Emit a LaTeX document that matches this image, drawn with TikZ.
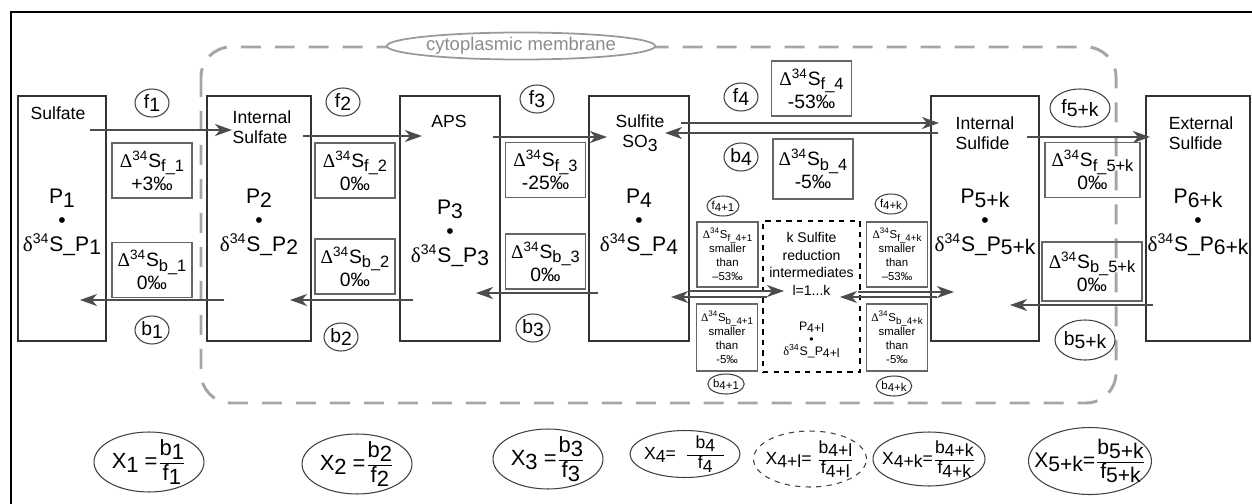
\documentclass[tikz,border=0pt]{standalone}
\usepackage{fontspec}
\setmainfont{Liberation Sans}
\newfontfamily\grk{Liberation Serif}
\usepackage{graphicx}
\usetikzlibrary{positioning,shapes,arrows.meta}

\newcommand{\lo}[1]{\raisebox{-0.35ex}{#1}}
\newcommand{\sub}[1]{\raisebox{-0.45ex}{\scalebox{0.85}{#1}}}
\newcommand{\Dl}{{\grk Δ}\textsuperscript{34}S}
\newcommand{\dl}{{\grk δ}\textsuperscript{34}S\_P}
\newcommand{\frc}[2]{$\frac{\mbox{\rule[-0.6ex]{0pt}{1ex}#1}}{\mbox{#2}}$}

\begin{document}
\begin{tikzpicture}[x=0.02cm, y=-0.02cm,
      every node/.style={font=\fontsize{10}{12}\selectfont, align=center, inner sep=1pt},
      pool/.style={draw=black!80, line width=0.9pt, minimum height=49mm},
      poolname/.style={align=left, font=\fontsize{10}{11.5}\selectfont},
      conc/.style={font=\fontsize{12}{13.6}\selectfont},
      dbox/.style={draw=black!60, line width=0.9pt, minimum width=16mm, minimum height=11mm,
                   font=\fontsize{11}{13}\selectfont},
      sbox/.style={draw=black!60, line width=0.9pt, minimum width=12.2mm, minimum height=13mm,
                   font=\fontsize{6.5}{8}\selectfont},
      rate/.style={ellipse, draw=black!75, line width=0.6pt, inner sep=0pt,
                   minimum width=6.8mm, minimum height=5.6mm, font=\fontsize{11}{12}\selectfont},
      srate/.style={rate, minimum width=6.4mm, minimum height=4mm, font=\fontsize{6.5}{7}\selectfont},
      eq/.style={ellipse, draw=black!75, line width=0.6pt, inner sep=-6mm,
                 minimum width=22mm, minimum height=12mm, font=\fontsize{12.5}{13}\selectfont},
      arrow/.style={-{Stealth[length=3.4mm, width=2.4mm, inset=1mm]}, line width=0.9pt, draw=black!70},
      membrane/.style={draw=black!35, line width=1.7pt, dash pattern=on 4mm off 2.8mm,
                       rounded corners=6mm},
  ]
    \useasboundingbox (0,0) rectangle (1252,504);
    \draw[line width=1.1pt] (11,12) rectangle (1264,516);

    %% --- membrane ---
    \draw[membrane] (201,47) rectangle (1116,403);
    \node[ellipse, draw=black!40, line width=1pt, fill=white, text=black!45, inner sep=0pt,
          minimum width=50.6mm, minimum height=5.4mm, font=\fontsize{10.5}{12}\selectfont]
      (memb) at (521,46) {cytoplasmic membrane};

    %% --- pools ---
    \node[pool, minimum width=17.6mm] (p1) at (62,218.5) {};
    \node[pool, minimum width=20.8mm] (p2) at (259,218.5) {};
    \node[pool, minimum width=20mm]   (p3) at (450,218.5) {};
    \node[pool, minimum width=20mm]   (p4) at (639,218.5) {};
    \node[pool, minimum width=21.6mm] (p5) at (985,218.5) {};
    \node[pool, minimum width=20.8mm] (p6) at (1198,218.5) {};

    \node[poolname] (n1) at (58,113)  {Sulfate};
    \node[poolname] (n2) at (262,127) {Internal\\Sulfate};
    \node[poolname] (n3) at (449,121) {APS};
    \node[poolname, align=center] (n4) at (640,133) {Sulfite\\SO\lo{3}};
    \node[poolname] (n5) at (985,133) {Internal\\Sulfide};
    \node[poolname] (n6) at (1201,133) {External\\Sulfide};

    \node[conc] (c1) at (62,222)  {P\lo{1}\\•\\\dl\lo{1}};
    \node[conc] (c2) at (259,222) {P\lo{2}\\•\\\dl\lo{2}};
    \node[conc] (c3) at (450,233) {P\lo{3}\\•\\\dl\lo{3}};
    \node[conc] (c4) at (639,222) {P\lo{4}\\•\\\dl\lo{4}};
    \node[conc] (c5) at (985,222) {P\lo{5+k}\\•\\\dl\lo{5+k}};
    \node[conc] (c6) at (1198,222) {P\lo{6+k}\\•\\\dl\lo{6+k}};

    %% --- fractionation boxes ---
    \node[dbox] (df1) at (152,170.5) {\Dl\sub{f\_1}\\+3‰};
    \node[dbox] (db1) at (152,270)   {\Dl\sub{b\_1}\\0‰};
    \node[dbox] (df2) at (355,170.5) {\Dl\sub{f\_2}\\0‰};
    \node[dbox] (db2) at (355,266.5) {\Dl\sub{b\_2}\\0‰};
    \node[dbox] (df3) at (545.5,170) {\Dl\sub{f\_3}\\-25‰};
    \node[dbox] (db3) at (545.5,261.5) {\Dl\sub{b\_3}\\0‰};
    \node[dbox] (df4) at (811.5,88.5) {\Dl\sub{f\_4}\\-53‰};
    \node[dbox, minimum height=12mm] (db4) at (813,169) {\Dl\sub{b\_4}\\-5‰};
    \node[dbox, minimum width=19mm] (df5) at (1092.5,170) {\Dl\sub{f\_5+k}\\0‰};
    \node[dbox, minimum width=20mm, minimum height=11.8mm] (db5) at (1092,271.5) {\Dl\sub{b\_5+k}\\0‰};

    %% --- sulfite reduction intermediates ---
    \node[draw, dashed, line width=0.9pt, minimum width=19.4mm, minimum height=30.2mm]
      (kbox) at (811.5,296.5) {};
    \node[font=\fontsize{8}{10}\selectfont] (ktxt) at (811.5,264)
      {k Sulfite\\reduction\\intermediates\\l=1...k};
    \node[font=\fontsize{7}{7.2}\selectfont] (kconc) at (811.5,340)
      {P\lo{4+l}\\•\\\dl\lo{4+l}};

    \node[sbox] (dfk1) at (727.5,254.5) {\Dl\sub{f\_4+1}\\smaller\\than\\–53‰};
    \node[sbox, minimum height=13.4mm] (dbk1) at (727,337.5) {\Dl\sub{b\_4+1}\\smaller\\than\\-5‰};
    \node[sbox] (dfkk) at (897,254.5) {\Dl\sub{f\_4+k}\\smaller\\than\\–53‰};
    \node[sbox, minimum height=13.4mm] (dbkk) at (897,337.5) {\Dl\sub{b\_4+k}\\smaller\\than\\-5‰};

    %% --- fluxes ---
    \node[rate] (f1) at (152,103) {f\lo{1}};
    \node[rate] (f2) at (343,102) {f\lo{2}};
    \node[rate] (f3) at (537,99)  {f\lo{3}};
    \node[rate] (f4) at (741,97)  {f\lo{4}};
    \node[rate] (b4) at (741,157) {b\lo{4}};
    \node[rate, minimum width=12mm, minimum height=7.6mm] (f5) at (1080,108) {f\lo{5+k}};
    \node[rate] (b1) at (152,330) {b\lo{1}};
    \node[rate] (b2) at (341,337) {b\lo{2}};
    \node[rate] (b3) at (533,328) {b\lo{3}};
    \node[rate, minimum width=11.8mm, minimum height=8mm] (b5) at (1085,340) {b\lo{5+k}};
    \node[srate] (fk1) at (723,206) {f\lo{4+1}};
    \node[srate] (bk1) at (726,384) {b\lo{4+1}};
    \node[srate] (fkk) at (891,204) {f\lo{4+k}};
    \node[srate] (bkk) at (894,386) {b\lo{4+k}};

    %% --- arrow ends ---
    \coordinate (a1s) at (90,130);   \coordinate (a1e) at (232,130);
    \coordinate (a2s) at (303,136);  \coordinate (a2e) at (422,136);
    \coordinate (a3s) at (493,137);  \coordinate (a3e) at (607,137);
    \coordinate (a4s) at (681,123);  \coordinate (a4e) at (939,123);
    \coordinate (r4s) at (938,133);  \coordinate (r4e) at (665,133);
    \coordinate (a5s) at (1027,137); \coordinate (a5e) at (1150,137);
    \coordinate (r1s) at (224,300);  \coordinate (r1e) at (80,300);
    \coordinate (r2s) at (413,300);  \coordinate (r2e) at (290,300);
    \coordinate (r3s) at (598,293);  \coordinate (r3e) at (476,293);
    \coordinate (r5s) at (1153,305); \coordinate (r5e) at (1010,305);
    \coordinate (k1s) at (689,291);  \coordinate (k1e) at (784,291);
    \coordinate (q1s) at (767,297);  \coordinate (q1e) at (671,297);
    \coordinate (k2s) at (858,292);  \coordinate (k2e) at (954,292);
    \coordinate (q2s) at (937,297);  \coordinate (q2e) at (840,297);

    \draw[arrow] (a1s) -- (a1e);
    \draw[arrow] (a2s) -- (a2e);
    \draw[arrow] (a3s) -- (a3e);
    \draw[arrow] (a4s) -- (a4e);
    \draw[arrow] (r4s) -- (r4e);
    \draw[arrow] (a5s) -- (a5e);
    \draw[arrow] (r1s) -- (r1e);
    \draw[arrow] (r2s) -- (r2e);
    \draw[arrow] (r3s) -- (r3e);
    \draw[arrow] (r5s) -- (r5e);
    \draw[arrow] (k1s) -- (k1e);
    \draw[arrow] (q1s) -- (q1e);
    \draw[arrow] (k2s) -- (k2e);
    \draw[arrow] (q2s) -- (q2e);

    %% --- ratios ---
    \node[eq] (x1) at (149,462) {X\lo{1} =\frc{b\lo{1}}{f\lo{1}}};
    \node[eq] (x2) at (357,464) {X\lo{2} =\frc{b\lo{2}}{f\lo{2}}};
    \node[eq] (x3) at (548,459) {X\lo{3} =\frc{b\lo{3}}{f\lo{3}}};
    \node[eq, minimum height=9.4mm, font=\fontsize{10}{11}\selectfont] (x4) at (685,454)
      {X\lo{4}=\enspace\frc{\enspace b\lo{4}\enspace}{f\lo{4}}};
    \node[eq, dashed, minimum width=22.6mm, minimum height=11.2mm, font=\fontsize{10}{11}\selectfont]
      (x4l) at (810,459) {X\lo{4+l}= \frc{b\lo{4+l}}{f\lo{4+l}}};
    \node[eq, minimum width=22.4mm, minimum height=10.8mm, font=\fontsize{10}{11}\selectfont]
      (x4k) at (929,459) {X\lo{4+k}=\frc{b\lo{4+k}}{f\lo{4+k}}};
    \node[eq, minimum width=24.6mm, minimum height=13.4mm, font=\fontsize{12}{13}\selectfont]
      (x5) at (1090,461) {X\lo{5+k}=\frc{b\lo{5+k}}{f\lo{5+k}}};
\end{tikzpicture}
\end{document}
